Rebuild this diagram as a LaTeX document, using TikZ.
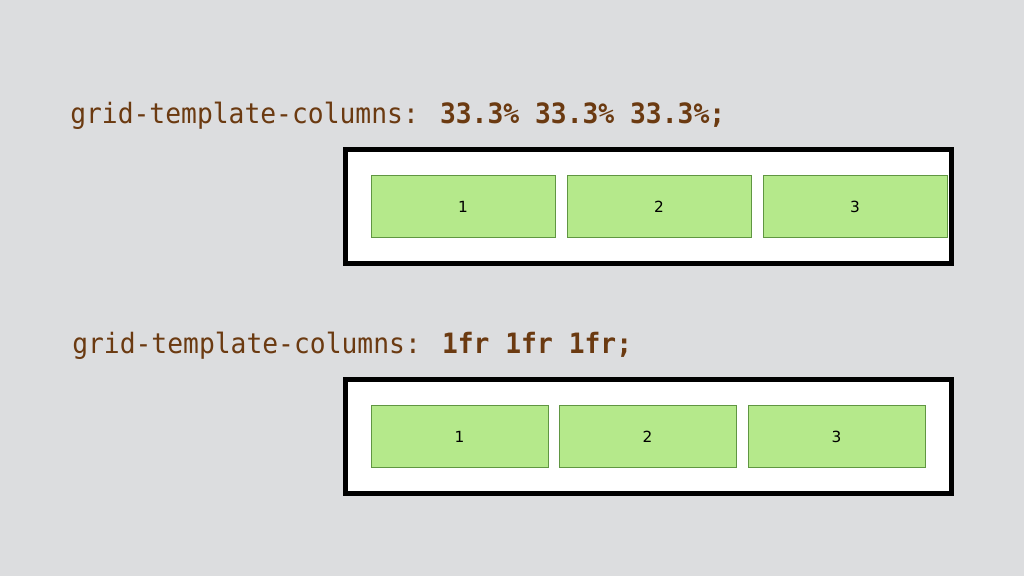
\documentclass[tikz,border=0pt]{standalone}
\usepackage{fontspec}
\newfontfamily\codefont[FakeStretch=0.94]{DejaVu Sans Mono}
\newfontfamily\cellfont{DejaVu Sans}
\definecolor{bg}{RGB}{220,221,223}
\definecolor{cellfill}{RGB}{181,233,139}
\definecolor{celldraw}{RGB}{96,150,66}
\definecolor{codebrown}{RGB}{107,58,17}
\begin{document}
\begin{tikzpicture}[x=0.75pt,y=-0.75pt,
  code/.style={anchor=base west,inner sep=0pt,text=codebrown,font=\codefont\fontsize{21}{24}\selectfont},
  container/.style={draw=black,line width=3.75pt,fill=white},
  cell/.style={draw=celldraw,line width=0.6pt,fill=cellfill},
  celltext/.style={font=\cellfont\fontsize{11.5}{13}\selectfont,text=black,inner sep=0pt}]
\fill[bg] (0,0) rectangle (1024,576);
\useasboundingbox (0,0) rectangle (1024,576);
% first example
\node[code] (t1) at (70,123) {grid-template-columns: \textbf{33.3\% 33.3\% 33.3\%;}};
\draw[container] (345.5,149.5) rectangle (951.5,263.5);
\draw[cell] (371,175) rectangle (555,237);
\draw[cell] (567,175) rectangle (751,237);
\draw[cell] (763,175) rectangle (947,237);
\node[celltext] (a1) at (463,207) {1};
\node[celltext] (a2) at (659,207) {2};
\node[celltext] (a3) at (855,207) {3};
% second example
\node[code] (t2) at (72,353) {grid-template-columns: \textbf{1fr 1fr 1fr;}};
\draw[container] (345.5,379.5) rectangle (951.5,493.5);
\draw[cell] (371,405) rectangle (548,467);
\draw[cell] (559,405) rectangle (736,467);
\draw[cell] (748,405) rectangle (925,467);
\node[celltext] (b1) at (459.5,437) {1};
\node[celltext] (b2) at (647.5,437) {2};
\node[celltext] (b3) at (836.5,437) {3};
\end{tikzpicture}
\end{document}
